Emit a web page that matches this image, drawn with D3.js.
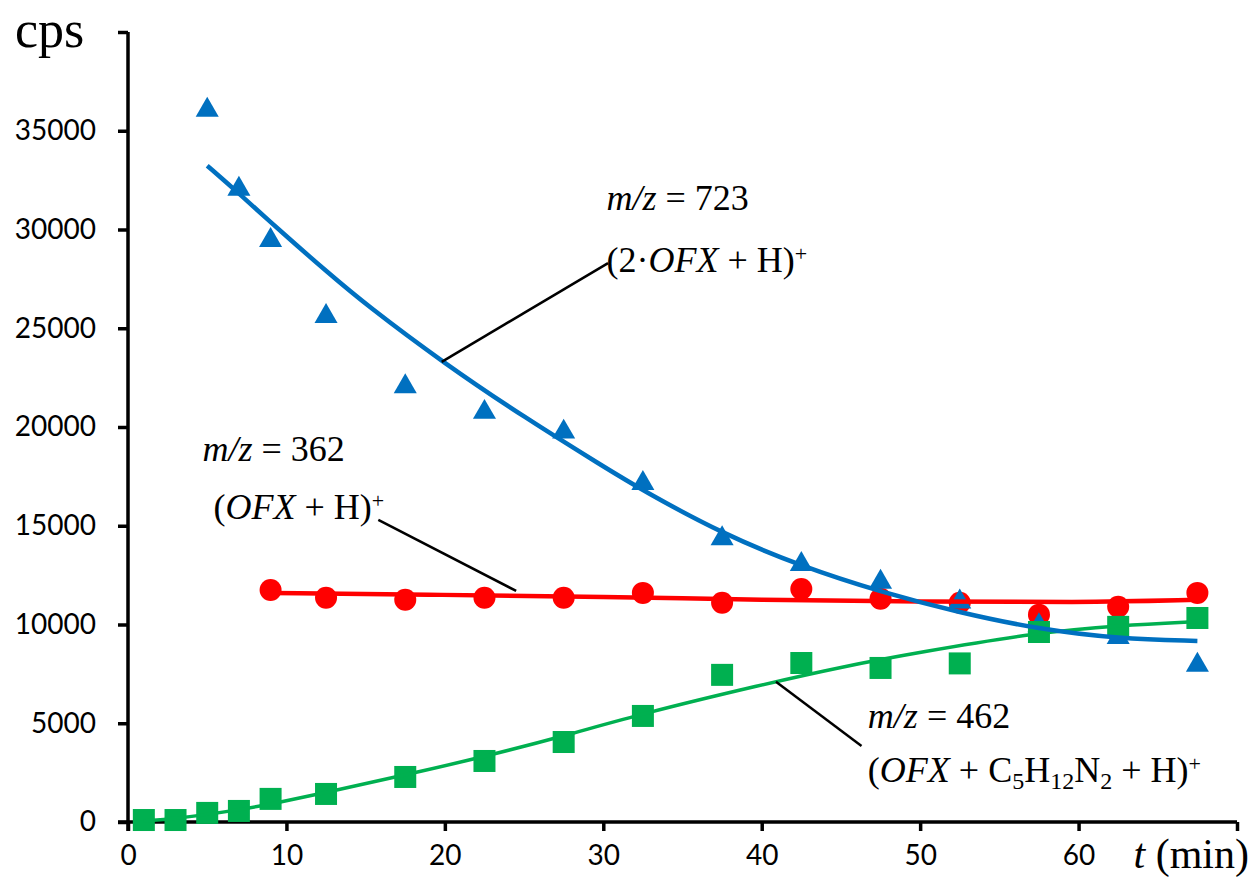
<!DOCTYPE html>
<html>
<head>
<meta charset="utf-8">
<script src="https://cdn.jsdelivr.net/npm/d3@7"></script>
<style>
  body { margin: 0; background: #fff; }
  svg { display: block; }
</style>
</head>
<body>
<svg id="chart"></svg>
<script>
const blueX = [5, 7, 9, 12.5, 17.5, 22.5, 27.5, 32.5, 37.5, 42.5, 47.5, 52.5, 57.5, 62.5, 67.5]
const blueY = [36100, 32100, 29500, 25650, 22100, 20800, 19800, 17200, 14400, 13100, 12200, 11200, 10000, 9400, 8000]

const redX = [9, 12.5, 17.5, 22.5, 27.5, 32.5, 37.5, 42.5, 47.5, 52.5, 57.5, 62.5, 67.5]
const redY = [11750, 11350, 11250, 11350, 11350, 11600, 11100, 11800, 11300, 11100, 10500, 10900, 11600]

const greenX = [1, 3, 5, 7, 9, 12.5, 17.5, 22.5, 27.5, 32.5, 37.5, 42.5, 47.5, 52.5, 57.5, 62.5, 67.5]
const greenY = [100, 100, 460, 560, 1170, 1420, 2280, 3090, 4050, 5370, 7450, 8050, 7800, 8030, 9620, 9880, 10330]

// trend lines, sampled along the drawn curves
const blueFitX = [5, 7, 10, 12.5, 15, 20, 25, 30, 32.5, 37.5, 42.5, 47.5, 52.5, 57.5, 62.5, 67.5]
const blueFitY = [33230, 31830, 29650, 27900, 26200, 23200, 20500, 18000, 16780, 14600, 12950, 11650, 10600, 9760, 9280, 9170]

const redFitX = [9, 20, 30, 40, 50, 60, 67.5]
const redFitY = [11600, 11500, 11400, 11250, 11150, 11110, 11250]

const greenFitX = [1, 3, 5, 7, 9, 12.5, 17.5, 22.5, 27.5, 32.5, 40, 45, 50, 57.5, 62.5, 67.5]
const greenFitY = [50, 180, 380, 620, 900, 1500, 2380, 3310, 4350, 5500, 6950, 7850, 8600, 9600, 9950, 10150]

const xTicks = [0, 10, 20, 30, 40, 50, 60, 70]
const yTicks = [0, 5000, 10000, 15000, 20000, 25000, 30000, 35000, 40000]

width = 1251
height = 879

var svg = d3.select("#chart")
    .attr("width", width)
    .attr("height", height)

var x = d3.scaleLinear().domain([0, 70]).range([128, 1237])
var y = d3.scaleLinear().domain([0, 40000]).range([822, 32])

var blue = "#0070C0", red = "#FF0000", green = "#00B050"
var tickFont = "Lato, 'Open Sans', sans-serif"
var serif = "'Liberation Serif', 'Times New Roman', serif"

// axes
var yAxis = svg.append("g")
    .attr("transform", "translate(" + x(0) + ",0)")
    .call(d3.axisLeft(y).tickValues(yTicks).tickSize(10).tickPadding(22)
        .tickFormat(d => d == 40000 ? "" : d))
var xAxis = svg.append("g")
    .attr("transform", "translate(0," + y(0) + ")")
    .call(d3.axisBottom(x).tickValues(xTicks).tickSize(9).tickPadding(14)
        .tickFormat(d => d == 70 ? "" : d))

svg.selectAll(".domain").attr("stroke-width", 3.5).attr("stroke", "#000")
svg.selectAll(".tick line").attr("stroke-width", 3.5).attr("stroke", "#000")
svg.selectAll(".tick text")
    .attr("font-family", tickFont)
    .attr("font-size", 28)
    .attr("fill", "#000")
// axisLeft/axisBottom draw the domain with outer ticks; make them plain
yAxis.select(".domain").attr("d", "M0," + y(40000) + "V" + (y(0) + 9))
xAxis.select(".domain").attr("d", "M" + (x(0) - 10) + ",0H" + x(70))

svg.append("text")
    .attr("x", 15).attr("y", 47)
    .attr("font-family", serif).attr("font-size", 52)
    .text("cps")

var tLabel = svg.append("text")
    .attr("x", 1249).attr("y", 868)
    .attr("text-anchor", "end")
    .attr("font-family", serif).attr("font-size", 42)
tLabel.append("tspan").attr("font-style", "italic").text("t")
tLabel.append("tspan").text(" (min)")

// markers
function pts(xs, ys) { return xs.map((v, i) => ({ x: v, y: ys[i] })) }

svg.append("g").selectAll("circle")
    .data(pts(redX, redY))
    .enter()
    .append("circle")
    .attr("cx", d => x(d.x))
    .attr("cy", d => y(d.y))
    .attr("r", 11)
    .attr("fill", red)

var tri = d3.symbol().type(d3.symbolTriangle).size(230)
svg.append("g").selectAll("path")
    .data(pts(blueX, blueY))
    .enter()
    .append("path")
    .attr("d", tri)
    .attr("transform", d => "translate(" + x(d.x) + "," + (y(d.y) + 1) + ")")
    .attr("fill", blue)

svg.append("g").selectAll("rect")
    .data(pts(greenX, greenY))
    .enter()
    .append("rect")
    .attr("x", d => x(d.x) - 11)
    .attr("y", d => y(d.y) - 11)
    .attr("width", 22)
    .attr("height", 22)
    .attr("fill", green)

// trend lines
var line = d3.line().x(d => x(d.x)).y(d => y(d.y)).curve(d3.curveBasis)
svg.append("path").datum(pts(redFitX, redFitY))
    .attr("d", line).attr("fill", "none").attr("stroke", red).attr("stroke-width", 4.5)
svg.append("path").datum(pts(greenFitX, greenFitY))
    .attr("d", line).attr("fill", "none").attr("stroke", green).attr("stroke-width", 3.5)
svg.append("path").datum(pts(blueFitX, blueFitY))
    .attr("d", line).attr("fill", "none").attr("stroke", blue).attr("stroke-width", 4.5)

// leader lines
const leaders = [
    [[19.8, 23300], [30.3, 28300]],
    [[15.8, 15300], [24.5, 11700]],
    [[40.9, 7100], [46.3, 3850]]
]
svg.append("g").selectAll("line")
    .data(leaders)
    .enter()
    .append("line")
    .attr("x1", d => x(d[0][0])).attr("y1", d => y(d[0][1]))
    .attr("x2", d => x(d[1][0])).attr("y2", d => y(d[1][1]))
    .attr("stroke", "#000").attr("stroke-width", 2.5)

// annotation labels: pieces of [text, style]
const labels = [
    { at: [30.2, 31000], parts: [["m/z", "i"], [" = 723", ""]] },
    { at: [30.2, 27860], parts: [["(2·", ""], ["OFX", "i"], [" + H)", ""], ["+", "sup"]] },
    { at: [4.7, 18290], parts: [["m/z", "i"], [" = 362", ""]] },
    { at: [5.4, 15350], parts: [["(", ""], ["OFX", "i"], [" + H)", ""], ["+", "sup"]] },
    { at: [46.7, 4760], parts: [["m/z", "i"], [" = 462", ""]] },
    { at: [46.7, 2030], parts: [["(", ""], ["OFX", "i"], [" + C", ""], ["5", "sub"], ["H", ""], ["12", "sub"],
        ["N", ""], ["2", "sub"], [" + H)", ""], ["+", "sup"]] }
]

labels.forEach(l => {
    var t = svg.append("text")
        .attr("x", x(l.at[0])).attr("y", y(l.at[1]))
        .attr("font-family", serif).attr("font-size", 36)
        .attr("xml:space", "preserve")
    l.parts.forEach(p => {
        var s = t.append("tspan").text(p[0])
        if (p[1] == "i") s.attr("font-style", "italic")
        if (p[1] == "sup") s.attr("font-size", 22).attr("baseline-shift", "11")
        if (p[1] == "sub") s.attr("font-size", 24).attr("baseline-shift", "-7")
    })
})
</script>
</body>
</html>
